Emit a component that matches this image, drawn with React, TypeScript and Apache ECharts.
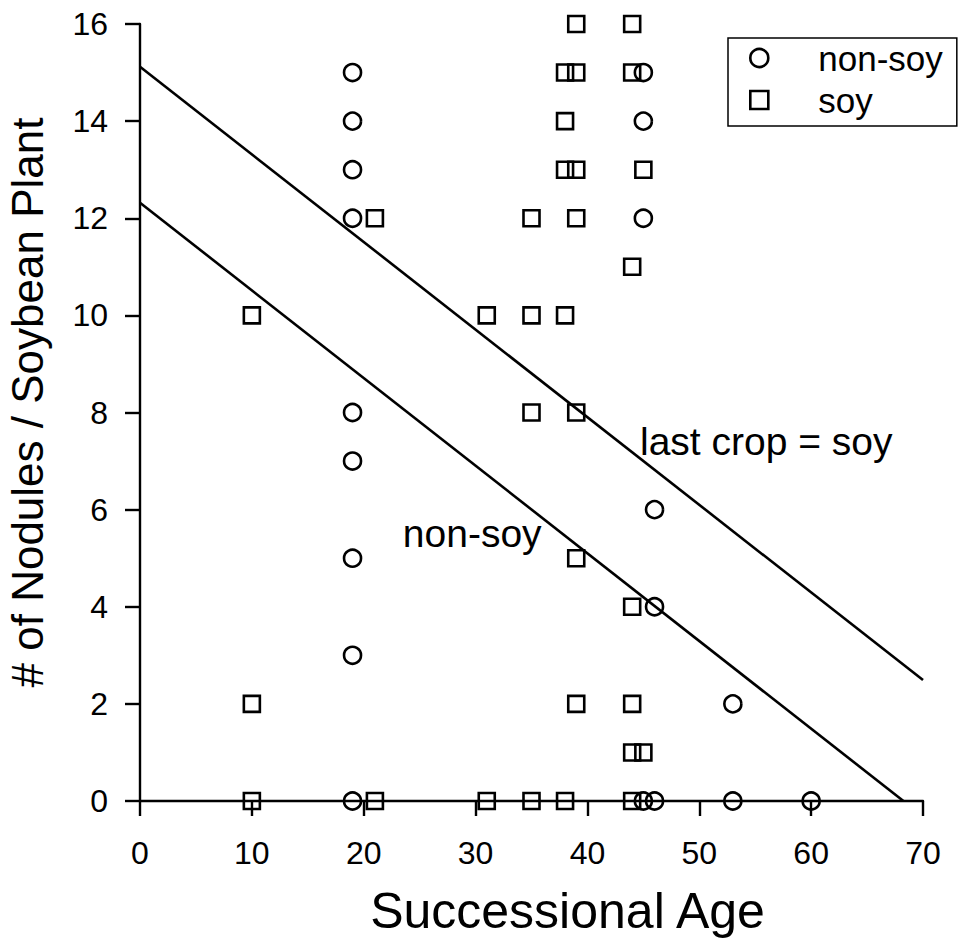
import React, { useEffect, useRef } from "react";
import * as echarts from "echarts";

// Non-soy (last crop not soybean) observations
const nonSoyAge = [19, 19, 19, 19, 19, 19, 19, 19, 19, 45, 45, 45, 46, 46, 45, 46, 53, 53, 60];
const nonSoyNodules = [15, 14, 13, 12, 8, 7, 5, 3, 0, 15, 14, 12, 6, 4, 0, 0, 2, 0, 0];

// Soy (last crop soybean) observations
const soyAge = [10, 10, 10, 21, 21, 31, 31, 35, 35, 35, 35, 38, 38, 38, 38, 38, 39, 39, 39, 39, 39, 39, 39, 44, 44, 44, 44, 44, 44, 44, 45, 45];
const soyNodules = [10, 2, 0, 12, 0, 10, 0, 12, 10, 8, 0, 15, 14, 13, 10, 0, 16, 15, 13, 12, 8, 5, 2, 16, 15, 11, 4, 2, 1, 0, 13, 1];

// Fitted lines (end points)
const soyLineAge = [0, 70];
const soyLineNodules = [15.12, 2.49];
const nonSoyLineAge = [0, 68.25];
const nonSoyLineNodules = [12.32, 0];

// Axes
const xMin = 0, xMax = 70, xStep = 10;
const yMin = 0, yMax = 16, yStep = 2;

// Labels
const xTitle = "Successional Age";
const yTitle = "# of Nodules / Soybean Plant";
const legendNames = ["non-soy", "soy"];
const annSoy = { text: "last crop = soy", age: 44.7, nodules: 7.41 };
const annNonSoy = { text: "non-soy", age: 23.5, nodules: 5.5 };

const FONT = "'Liberation Sans', Arial, Helvetica, sans-serif";

const zip = (xs: number[], ys: number[]) => xs.map((x, i) => [x, ys[i]]);

export default function App() {
  const ref = useRef<HTMLDivElement>(null);
  useEffect(() => {
    document.body.style.margin = "0";
    if (!ref.current) return;
    const chart = echarts.init(ref.current, null, { renderer: "svg" });
    const markerStyle = { color: "transparent", borderColor: "#000", borderWidth: 2.6, opacity: 1 };
    chart.setOption({
      animation: false,
      backgroundColor: "#fff",
      grid: { left: 140, right: 36, top: 24, bottom: 139, containLabel: false, outerBoundsMode: "none" },
      legend: {
        data: legendNames,
        orient: "vertical",
        left: 728,
        top: 38,
        width: 226,
        padding: [2, 14, 8, 21],
        itemWidth: 18,
        itemHeight: 18,
        itemGap: 6,
        borderColor: "#000",
        borderWidth: 1.5,
        borderRadius: 0,
        itemStyle: { color: "transparent", borderColor: "#000", borderWidth: 2.6, opacity: 1 },
        textStyle: { fontFamily: FONT, fontSize: 35, color: "#000", lineHeight: 36, padding: [0, 0, 0, 45] },
      },
      xAxis: {
        type: "value",
        min: xMin,
        max: xMax,
        interval: xStep,
        splitLine: { show: false },
        axisLine: { show: true, onZero: false, lineStyle: { color: "#000", width: 2.4 } },
        axisTick: { show: true, inside: false, length: 15, lineStyle: { color: "#000", width: 2.4 } },
        axisLabel: { color: "#000", fontFamily: FONT, fontSize: 32, margin: 36 },
        name: xTitle,
        nameLocation: "middle",
        nameGap: 84,
        nameTextStyle: { color: "#000", fontFamily: FONT, fontSize: 50, lineHeight: 52, padding: [0, 0, 0, 72] },
      },
      yAxis: {
        type: "value",
        min: yMin,
        max: yMax,
        interval: yStep,
        splitLine: { show: false },
        axisLine: { show: true, onZero: false, lineStyle: { color: "#000", width: 2.4 } },
        axisTick: { show: true, inside: false, length: 15, lineStyle: { color: "#000", width: 2.4 } },
        axisLabel: { color: "#000", fontFamily: FONT, fontSize: 32, margin: 32 },
        name: yTitle,
        nameLocation: "middle",
        nameGap: 90,
        nameTextStyle: { color: "#000", fontFamily: FONT, fontSize: 44, lineHeight: 46, padding: [0, 0, 0, 20] },
      },
      series: [
        {
          name: "non-soy",
          type: "scatter",
          symbol: "circle",
          symbolSize: 17,
          itemStyle: markerStyle,
          data: zip(nonSoyAge, nonSoyNodules),
          z: 3,
        },
        {
          name: "soy",
          type: "scatter",
          symbol: "rect",
          symbolSize: 16,
          itemStyle: markerStyle,
          data: zip(soyAge, soyNodules),
          z: 3,
        },
        {
          name: "soy fit",
          type: "line",
          showSymbol: false,
          symbol: "none",
          lineStyle: { color: "#000", width: 2.6 },
          data: zip(soyLineAge, soyLineNodules),
          z: 4,
        },
        {
          name: "non-soy fit",
          type: "line",
          showSymbol: false,
          symbol: "none",
          lineStyle: { color: "#000", width: 2.6 },
          data: zip(nonSoyLineAge, nonSoyLineNodules),
          z: 4,
        },
      ],
    });
    const p1 = chart.convertToPixel({ gridIndex: 0 }, [annSoy.age, annSoy.nodules]) as number[];
    const p2 = chart.convertToPixel({ gridIndex: 0 }, [annNonSoy.age, annNonSoy.nodules]) as number[];
    chart.setOption({
      graphic: [
        {
          type: "text",
          x: p1[0],
          y: p1[1],
          style: { text: annSoy.text, fill: "#000", font: `39px ${FONT}`, align: "left", verticalAlign: "middle" },
        },
        {
          type: "text",
          x: p2[0],
          y: p2[1],
          style: { text: annNonSoy.text, fill: "#000", font: `39px ${FONT}`, align: "left", verticalAlign: "middle" },
        },
      ],
    });
    return () => chart.dispose();
  }, []);
  return <div ref={ref} style={{ width: 959, height: 940 }} />;
}
